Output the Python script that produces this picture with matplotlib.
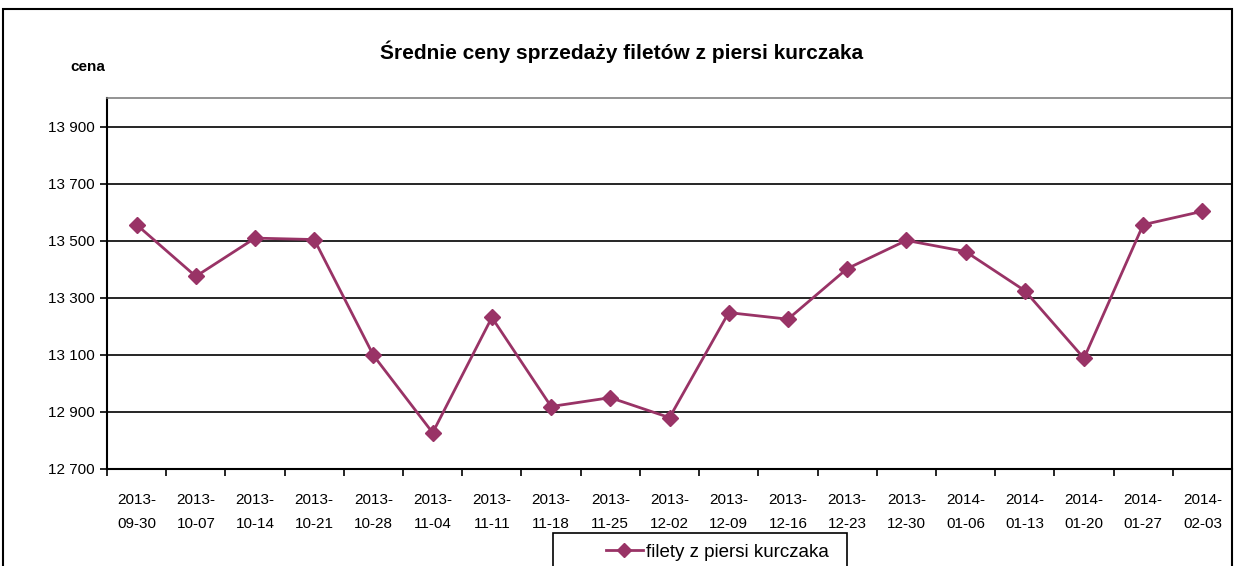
import matplotlib.pyplot as plt
from matplotlib.patches import Rectangle
from matplotlib.ticker import FuncFormatter, FixedLocator, NullFormatter

plt.rcParams['font.family'] = ['Liberation Sans Narrow', 'Liberation Sans', 'DejaVu Sans']

# Data
dates = ["2013-09-30", "2013-10-07", "2013-10-14", "2013-10-21", "2013-10-28",
         "2013-11-04", "2013-11-11", "2013-11-18", "2013-11-25", "2013-12-02",
         "2013-12-09", "2013-12-16", "2013-12-23", "2013-12-30", "2014-01-06",
         "2014-01-13", "2014-01-20", "2014-01-27", "2014-02-03"]
prices = [13556, 13375, 13509, 13504, 13098, 12827, 13231, 12919, 12950, 12880,
          13248, 13225, 13402, 13501, 13462, 13325, 13088, 13556, 13603]
series_name = "filety z piersi kurczaka"

fig = plt.figure(figsize=(12.34, 5.66), dpi=100)
ax = fig.add_axes([107 / 1234, 1 - 469 / 566, (1232 - 107) / 1234, (469 - 98) / 566])

x = list(range(len(dates)))
line, = ax.plot(x, prices, color='#993366', lw=2, marker='D', markersize=8.5,
                label=series_name, zorder=3)

ax.set_xlim(-0.5, len(dates) - 0.5)
ax.set_ylim(12700, 14000)
ax.set_yticks(range(12700, 14000, 200))
ax.yaxis.set_major_formatter(FuncFormatter(lambda v, p: f"{int(v):,}".replace(",", " ")))
ax.grid(axis='y', color='black', lw=1.2)
ax.set_axisbelow(True)

# category ticks between labels, labels centred under points
ax.xaxis.set_major_locator(FixedLocator([i - 0.5 for i in range(len(dates) + 1)]))
ax.xaxis.set_major_formatter(NullFormatter())
ax.xaxis.set_minor_locator(FixedLocator(x))
ax.set_xticklabels([d[:5] + "\n" + d[5:] for d in dates], minor=True)
ax.tick_params(axis='x', which='minor', length=0, pad=17, labelsize=11)
ax.tick_params(axis='x', which='major', length=5, width=1.2, direction='out')
ax.tick_params(axis='y', length=5, width=1.2, labelsize=11, pad=4)
for lbl in ax.get_xticklabels(minor=True):
    lbl.set_linespacing(1.9)

for side in ['left', 'bottom']:
    ax.spines[side].set_linewidth(1.5)
for side in ['top', 'right']:
    ax.spines[side].set_color('#808080')
    ax.spines[side].set_linewidth(1.2)

fig.text(622 / 1234, 1 - 52 / 566, "Średnie ceny sprzedaży filetów z piersi kurczaka",
         ha='center', va='center', fontsize=15, fontweight='bold')
fig.text(88 / 1234, 1 - 67 / 566, "cena", ha='center', va='center',
         fontsize=11, fontweight='bold')

# outer chart border
fig.patches.append(Rectangle((3 / 1234, -0.1), (1232 - 3) / 1234, 1.1 - 9 / 566,
                             transform=fig.transFigure, fill=False,
                             edgecolor='black', lw=1.5))

# legend box (cut off by the bottom of the image)
fig.patches.append(Rectangle((553 / 1234, -0.1), (847 - 553) / 1234, 0.1 + 1 - 533 / 566,
                             transform=fig.transFigure, fill=False,
                             edgecolor='black', lw=1.2))
fig.legend(handles=[line], loc='center left',
           bbox_to_anchor=(606 / 1234, 1 - 552 / 566), fontsize=13.5,
           frameon=False, borderpad=0, borderaxespad=0,
           handlelength=1.95, handletextpad=0.2, markerscale=0.8)

fig.savefig('out.png', dpi=100)
